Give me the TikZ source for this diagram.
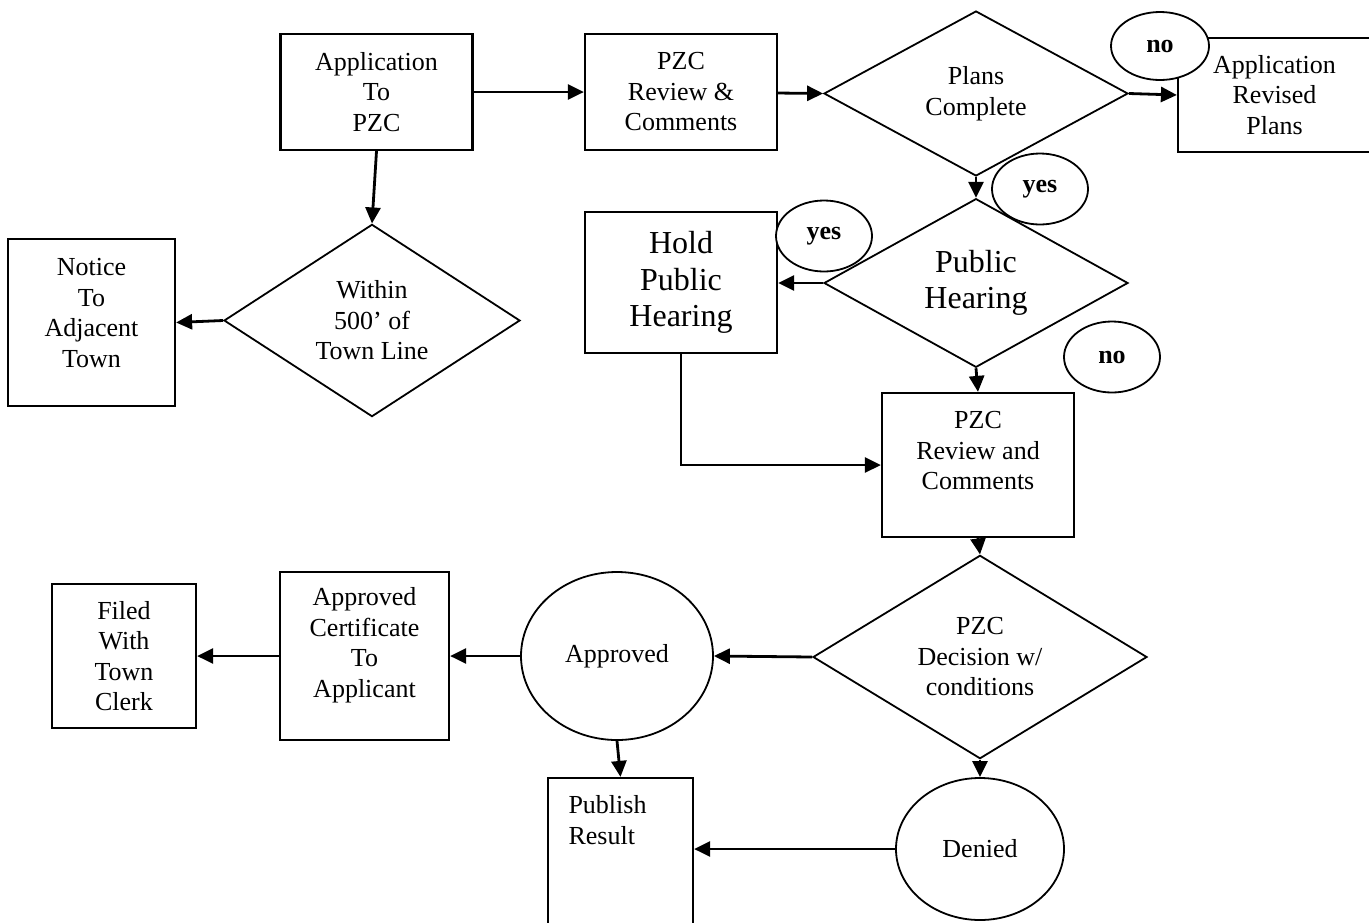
\documentclass[tikz,border=0pt]{standalone}
\usepackage{fontspec}
\setmainfont{Liberation Serif}
\usepackage{tikz}
\usetikzlibrary{shapes.geometric,arrows.meta,positioning}
\newcommand{\bodysize}{\fontsize{26}{30.5}\selectfont}
\newcommand{\hearsize}{\fontsize{32}{36.5}\selectfont}
\tikzstyle{process} = [rectangle, minimum width=192pt, draw=black, line width=2.2pt, inner sep=0pt, align=center]
\tikzstyle{decision} = [diamond, minimum width=304pt, minimum height=165pt, draw=black, line width=1.8pt, inner sep=0pt, align=center]
\tikzstyle{result} = [ellipse, draw=black, line width=1.8pt, inner sep=0pt]
\tikzstyle{answer} = [ellipse, minimum width=96pt, minimum height=71pt, draw=black, line width=1.8pt, inner sep=0pt, fill=white, font=\bodysize\bfseries]
\tikzstyle{arrow} = [line width=2.8pt, -{Triangle[length=16pt,width=15pt]}]

\begin{document}
\begin{tikzpicture}[x=1pt, y=-1pt, font=\bodysize]
\useasboundingbox (0,0) rectangle (1369,922);

% top row
\node (app) [process, minimum height=116pt] at (376.5,92) {Application\\To\\PZC};
\node (review1) [process, minimum height=116pt] at (681,92) {PZC\\Review \&\\Comments};
\node (plans) [decision] at (976,93.5) {Plans\\Complete};
\node (revised) [process, minimum width=193pt, minimum height=114pt] at (1274.5,95) {Application\\Revised\\Plans};

% hearing
\node (public) [decision, minimum height=164pt, font=\hearsize] at (976,283) {Public\\Hearing};
\node (hold) [process, minimum height=141pt, font=\hearsize] at (681,282.5) {Hold\\Public\\Hearing};
\node (review2) [process, minimum height=144pt] at (978,465) {};
\node (review2txt) [align=center] at (978,451) {PZC\\Review and\\Comments};

% town line
\node (within) [decision, minimum width=296pt, minimum height=191pt] at (372,320.5) {Within\\500’ of\\Town Line};
\node (notice) [process, minimum width=167pt, minimum height=167pt] at (91.5,322.5) {};
\node (noticetxt) [align=center] at (91.5,313) {Notice\\To\\Adjacent\\Town};

% decision
\node (decision) [decision, minimum width=334pt, minimum height=191pt] at (980,657) {PZC\\Decision w/\\conditions};
\node (approved) [result, minimum width=192pt, minimum height=168pt] at (617,656) {Approved};
\node (denied) [result, minimum width=168pt, minimum height=142pt] at (980,849) {Denied};
\node (cert) [process, minimum width=169pt, minimum height=168pt] at (364.5,656) {};
\node (certtxt) [align=center] at (364.5,645) {Approved\\Certificate\\To\\Applicant};
\node (filed) [process, minimum width=144pt, minimum height=144pt] at (124,656) {Filed\\With\\Town\\Clerk};
\node (publish) [process, minimum width=145pt, minimum height=150pt] at (620.5,853) {};
\node (publishtxt) [anchor=north west, align=left] at (565,792) {Publish\\Result};

\draw [arrow] (app) -- (review1);
\draw [arrow] (review1) -- (plans.west);
\draw [arrow] (plans.east) -- (revised.west);
\draw [arrow] (plans.south) -- (public.north);
\draw [arrow] (public.west) -- (public.west -| hold.east);
\draw [arrow] (public.south) -- (review2.north);
\draw [arrow] (hold.south) |- (review2.west);
\draw [arrow] (review2.south) -- (decision.north);
\draw [arrow] (app.south) -- (within.north);
\draw [arrow] (within.west) -- (notice.east);
\draw [arrow] (decision.west) -- (approved.east);
\draw [arrow] (approved.west) -- (cert.east);
\draw [arrow] (cert.west) -- (filed.east);
\draw [arrow] (approved.south) -- (publish.north);
\draw [arrow] (decision.south) -- (denied.north);
\draw [arrow] (denied.west) -- (denied.west -| publish.east);

% yes / no marks
\node (noplans) [answer, minimum width=98pt, minimum height=68pt] at (1160,46) {no};
\node (yesplans) [answer] at (1040,189) {yes};
\node (yespublic) [answer] at (824,236) {yes};
\node (nopublic) [answer] at (1112,357) {no};
\end{tikzpicture}
\end{document}
